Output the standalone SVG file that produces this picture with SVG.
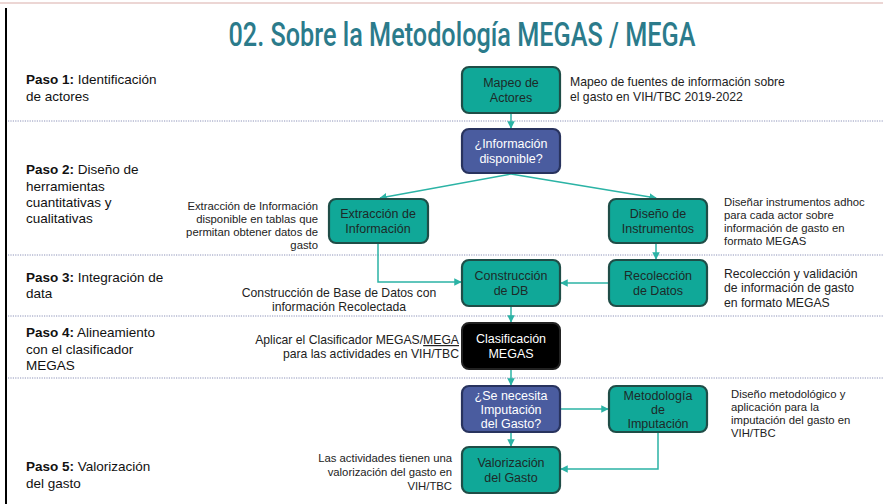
<svg xmlns="http://www.w3.org/2000/svg" width="883" height="504" viewBox="0 0 883 504">
<defs>
<marker id="ah" viewBox="0 0 10 10" refX="9" refY="5" markerWidth="5" markerHeight="5" orient="auto-start-reverse">
<path d="M0,0 L10,5 L0,10 z" fill="#2bb3a5"/>
</marker>
<style>
.sep{stroke:#8c92b8;stroke-width:1;stroke-dasharray:1.2 1.2;fill:none}
.teal{fill:#10a898;stroke:#1f4d47;stroke-width:2.2}
.blue{fill:#4a5c9f;stroke:#28335e;stroke-width:2.2}
.blk{fill:#000;stroke:#222;stroke-width:2}
.bt{font-family:"Liberation Sans",Arial,sans-serif;font-size:12.5px;fill:#1d2a28;text-anchor:middle}
.wt{font-family:"Liberation Sans",Arial,sans-serif;font-size:12.5px;fill:#fff;text-anchor:middle}
.step{font-family:"Liberation Sans",Arial,sans-serif;font-size:13.5px;fill:#111}
.step tspan.b{font-weight:bold}
.ann{font-family:"Liberation Sans",Arial,sans-serif;font-size:11.3px;fill:#222}
.ann2{font-family:"Liberation Sans",Arial,sans-serif;font-size:12.2px;fill:#222}
.con{stroke:#2bb3a5;stroke-width:1.5;fill:none}
</style>
</defs>
<rect width="883" height="504" fill="#fff"/>
<line x1="0" y1="3" x2="883" y2="3" stroke="#e6c9c6" stroke-width="1.5"/>
<line x1="6" y1="8" x2="6" y2="504" stroke="#000" stroke-width="2"/>
<text x="462" y="46" font-family="Roboto,'Open Sans',sans-serif" font-weight="500" font-size="33" fill="#2b7b8b" text-anchor="middle" textLength="467" lengthAdjust="spacingAndGlyphs">02. Sobre la Metodología MEGAS / MEGA</text>
<g id="separators">
<line class="sep" x1="8" y1="121" x2="883" y2="121"/>
<line class="sep" x1="8" y1="255" x2="883" y2="255"/>
<line class="sep" x1="8" y1="316" x2="883" y2="316"/>
<line class="sep" x1="8" y1="378" x2="883" y2="378"/>
</g>
<g id="steps">
<text class="step" x="26" y="84"><tspan class="b">Paso 1:</tspan> Identificación</text>
<text class="step" x="26" y="101">de actores</text>
<text class="step" x="26" y="174"><tspan class="b">Paso 2:</tspan> Diseño de</text>
<text class="step" x="26" y="191">herramientas</text>
<text class="step" x="26" y="207">cuantitativas y</text>
<text class="step" x="26" y="223">cualitativas</text>
<text class="step" x="26" y="282"><tspan class="b">Paso 3:</tspan> Integración de</text>
<text class="step" x="26" y="298">data</text>
<text class="step" x="26" y="337"><tspan class="b">Paso 4:</tspan> Alineamiento</text>
<text class="step" x="26" y="354">con el clasificador</text>
<text class="step" x="26" y="370">MEGAS</text>
<text class="step" x="26" y="471"><tspan class="b">Paso 5:</tspan> Valorización</text>
<text class="step" x="26" y="488">del gasto</text>
</g>
<g id="connectors">
<line class="con" x1="511" y1="114" x2="511" y2="128" marker-end="url(#ah)"/>
<line class="con" x1="511" y1="174" x2="380" y2="198" marker-end="url(#ah)"/>
<line class="con" x1="511" y1="174" x2="656" y2="198" marker-end="url(#ah)"/>
<polyline class="con" points="378,244 378,282 461,282" marker-end="url(#ah)"/>
<line class="con" x1="656" y1="244" x2="656" y2="259" marker-end="url(#ah)"/>
<line class="con" x1="608" y1="283" x2="561" y2="283" marker-end="url(#ah)"/>
<line class="con" x1="511" y1="307" x2="511" y2="322" marker-end="url(#ah)"/>
<line class="con" x1="511" y1="370" x2="511" y2="385" marker-end="url(#ah)"/>
<line class="con" x1="561" y1="409" x2="608" y2="409" marker-end="url(#ah)"/>
<line class="con" x1="511" y1="433" x2="511" y2="446" marker-end="url(#ah)"/>
<polyline class="con" points="658,433 658,469 561,469" marker-end="url(#ah)"/>
</g>
<g id="mapeo">
<rect class="teal" x="462" y="67" width="98" height="46" rx="7"/>
<text class="bt" x="511" y="87">Mapeo de</text>
<text class="bt" x="511" y="102">Actores</text>
</g>
<g id="mapeo-note">
<text class="ann2" x="570" y="86">Mapeo de fuentes de información sobre</text>
<text class="ann2" x="570" y="101">el gasto en VIH/TBC 2019-2022</text>
</g>
<g id="info">
<rect class="blue" x="462" y="129" width="98" height="44" rx="7"/>
<text class="wt" x="511" y="148">¿Información</text>
<text class="wt" x="511" y="163">disponible?</text>
</g>
<g id="extraccion">
<rect class="teal" x="329" y="199" width="99" height="44" rx="7"/>
<text class="bt" x="378" y="218">Extracción de</text>
<text class="bt" x="378" y="233">Información</text>
</g>
<g id="extraccion-note">
<text class="ann" text-anchor="end" x="318" y="210">Extracción de Información</text>
<text class="ann" text-anchor="end" x="318" y="223">disponible en tablas que</text>
<text class="ann" text-anchor="end" x="318" y="236">permitan obtener datos de</text>
<text class="ann" text-anchor="end" x="318" y="249">gasto</text>
</g>
<g id="diseno">
<rect class="teal" x="609" y="199" width="98" height="44" rx="7"/>
<text class="bt" x="658" y="218">Diseño de</text>
<text class="bt" x="658" y="233">Instrumentos</text>
</g>
<g id="diseno-note">
<text class="ann" x="724" y="206">Diseñar instrumentos adhoc</text>
<text class="ann" x="724" y="219">para cada actor sobre</text>
<text class="ann" x="724" y="232">información de gasto en</text>
<text class="ann" x="724" y="245">formato MEGAS</text>
</g>
<g id="construccion">
<rect class="teal" x="462" y="260" width="98" height="46" rx="7"/>
<text class="bt" x="511" y="280">Construcción</text>
<text class="bt" x="511" y="295">de DB</text>
</g>
<g id="construccion-note">
<text class="ann2" text-anchor="middle" x="339" y="297">Construcción de Base de Datos con</text>
<text class="ann2" text-anchor="middle" x="339" y="311">información Recolectada</text>
</g>
<g id="recoleccion">
<rect class="teal" x="609" y="260" width="98" height="46" rx="7"/>
<text class="bt" x="658" y="280">Recolección</text>
<text class="bt" x="658" y="295">de Datos</text>
</g>
<g id="recoleccion-note">
<text class="ann2" x="724" y="278">Recolección y validación</text>
<text class="ann2" x="724" y="292">de información de gasto</text>
<text class="ann2" x="724" y="307">en formato MEGAS</text>
</g>
<g id="clasificacion">
<rect class="blk" x="462" y="323" width="98" height="46" rx="7"/>
<text class="wt" x="511" y="343">Clasificación</text>
<text class="wt" x="511" y="358">MEGAS</text>
</g>
<g id="clasificacion-note">
<text class="ann2" text-anchor="end" x="459" y="344">Aplicar el Clasificador MEGAS/<tspan text-decoration="underline">MEGA</tspan></text>
<text class="ann2" text-anchor="end" x="459" y="358">para las actividades en VIH/TBC</text>
</g>
<g id="imputacion-q">
<rect class="blue" x="462" y="386" width="98" height="46" rx="7"/>
<text class="wt" x="511" y="400">¿Se necesita</text>
<text class="wt" x="511" y="414">Imputación</text>
<text class="wt" x="511" y="428">del Gasto?</text>
</g>
<g id="metodologia">
<rect class="teal" x="609" y="386" width="98" height="46" rx="7"/>
<text class="bt" x="658" y="400">Metodología</text>
<text class="bt" x="658" y="414">de</text>
<text class="bt" x="658" y="428">Imputación</text>
</g>
<g id="metodologia-note">
<text class="ann" x="731" y="398">Diseño metodológico y</text>
<text class="ann" x="731" y="411">aplicación para la</text>
<text class="ann" x="731" y="424">imputación del gasto en</text>
<text class="ann" x="731" y="437">VIH/TBC</text>
</g>
<g id="valorizacion">
<rect class="teal" x="462" y="447" width="98" height="46" rx="7"/>
<text class="bt" x="511" y="467">Valorización</text>
<text class="bt" x="511" y="482">del Gasto</text>
</g>
<g id="valorizacion-note">
<text class="ann" text-anchor="end" x="452" y="462">Las actividades tienen una</text>
<text class="ann" text-anchor="end" x="452" y="476">valorización del gasto en</text>
<text class="ann" text-anchor="end" x="452" y="490">VIH/TBC</text>
</g>
</svg>
